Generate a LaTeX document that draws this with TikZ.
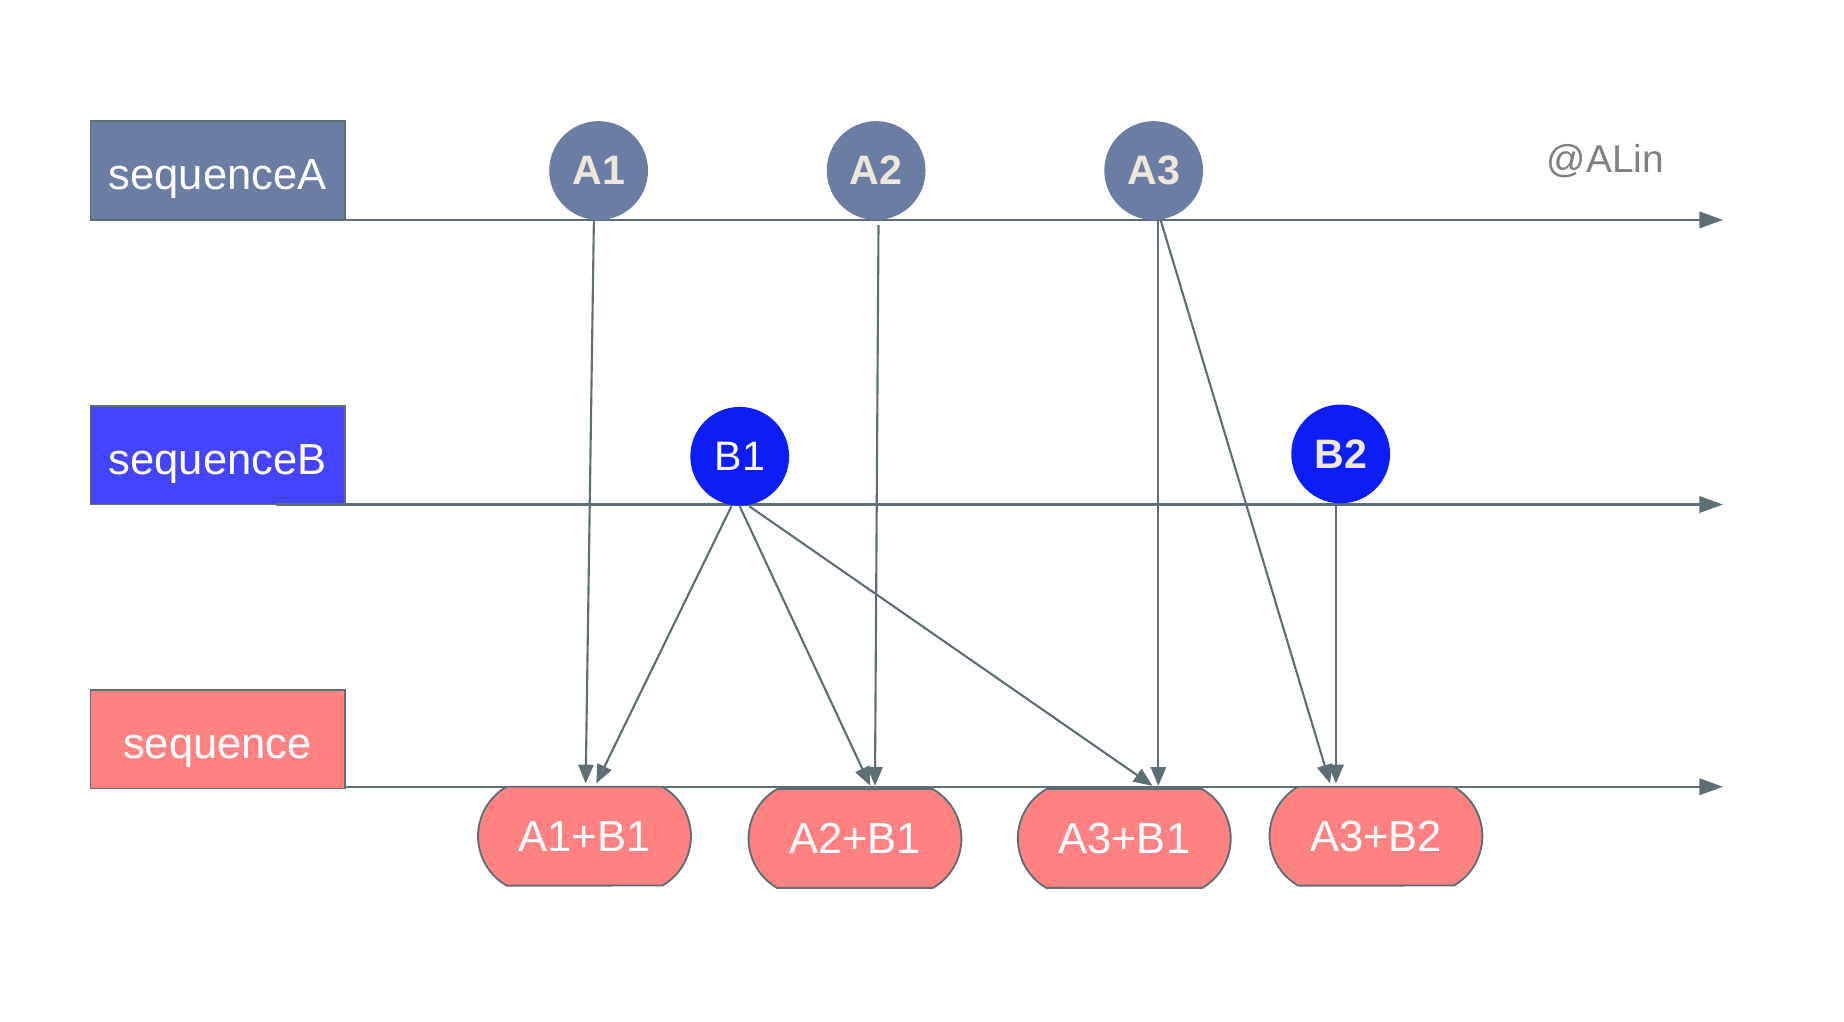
\documentclass[tikz,border=0pt]{standalone}
\usepackage{fontspec}
\setmainfont{Liberation Sans}
\usetikzlibrary{shapes.misc,arrows.meta}
\definecolor{linegray}{RGB}{94,110,117}
\definecolor{slateA}{RGB}{107,125,163}
\definecolor{blueB}{RGB}{68,68,255}
\definecolor{blueBdot}{RGB}{12,30,245}
\definecolor{salmon}{RGB}{255,130,130}
\definecolor{cream}{RGB}{238,232,220}
\tikzset{
  seqbox/.style={draw=linegray,line width=0.8pt,minimum width=108pt,minimum height=42pt,
    inner sep=0pt,text=white,text height=16.5pt,text depth=0pt,font=\fontsize{18.5}{20}\selectfont},
  dot/.style={circle,minimum size=42pt,inner sep=0pt,font=\bfseries\fontsize{17.5}{19}\selectfont,text=cream},
  result/.style={rounded rectangle,rounded rectangle arc length=120,draw=linegray,line width=0.8pt,
    fill=salmon,minimum width=90.5pt,minimum height=42pt,inner sep=0pt,text=white,
    font=\fontsize{18.5}{20}\selectfont},
  axis/.style={draw=linegray,line width=1pt,-{Triangle[length=10pt,width=7pt]}},
  link/.style={draw=linegray,line width=0.9pt,-{Triangle[length=8pt,width=6.5pt]}}
}
\begin{document}
\begin{tikzpicture}[x=0.5pt,y=-0.5pt]
\useasboundingbox (0,0) rectangle (1568,869);
% Zeitachsen
\node[seqbox,fill=slateA] (seqA) at (185,145) {sequenceA};
\node[seqbox,fill=blueB] (seqB) at (185,387) {sequenceB};
\node[seqbox,fill=salmon] (seq) at (185,628.5) {sequence};
\coordinate (axA0) at (235,187);
\coordinate (axA1) at (1465,187);
\coordinate (axB0) at (235,429);
\coordinate (axB1) at (1465,429);
\coordinate (ax0) at (293,669);
\coordinate (ax1) at (1465,669);
\draw[axis] (axA0) -- (axA1);
\draw[axis] (axB0) -- (axB1);
\draw[axis] (ax0) -- (ax1);
\node[text=gray,font=\fontsize{16.5}{18}\selectfont] (sign) at (1365,137) {@ALin};
% Elemente
\node[dot,fill=slateA] (A1) at (509,145) {A1};
\node[dot,fill=slateA] (A2) at (745,145) {A2};
\node[dot,fill=slateA] (A3) at (981,145) {A3};
\node[dot,fill=blueBdot,font=\fontsize{17.5}{19}\selectfont,text=white] (B1) at (629,388) {B1};
\node[dot,fill=blueBdot] (B2) at (1140,386) {B2};
% Ergebnisse
\node[result] (r11) at (497,711) {A1+B1};
\node[result] (r21) at (727,713) {A2+B1};
\node[result] (r31) at (956,713) {A3+B1};
\node[result] (r32) at (1170,711) {A3+B2};
% Pfeile
\draw[link] ([xshift=-2pt]A1.south) -- ([xshift=0.5pt,yshift=1pt]r11.north);
\draw[link] ([xshift=-3.5pt]B1.south) -- ([xshift=5pt,yshift=1pt]r11.north);
\draw[link] (B1.south) -- ([xshift=6.5pt,yshift=1pt]r21.north);
\draw[link] ([xshift=1pt,yshift=-2pt]A2.south) -- ([xshift=8.5pt,yshift=1pt]r21.north);
\draw[link] ([xshift=4pt]B1.south) -- ([xshift=12pt,yshift=1pt]r31.north);
\draw[link] ([xshift=2pt]A3.south) -- ([xshift=14.5pt,yshift=1pt]r31.north);
\draw[link] ([xshift=3pt]A3.south) -- ([xshift=-19.5pt,yshift=1pt]r32.north);
\draw[link] ([xshift=-2pt]B2.south) -- ([xshift=-17pt,yshift=1pt]r32.north);
\end{tikzpicture}
\end{document}
